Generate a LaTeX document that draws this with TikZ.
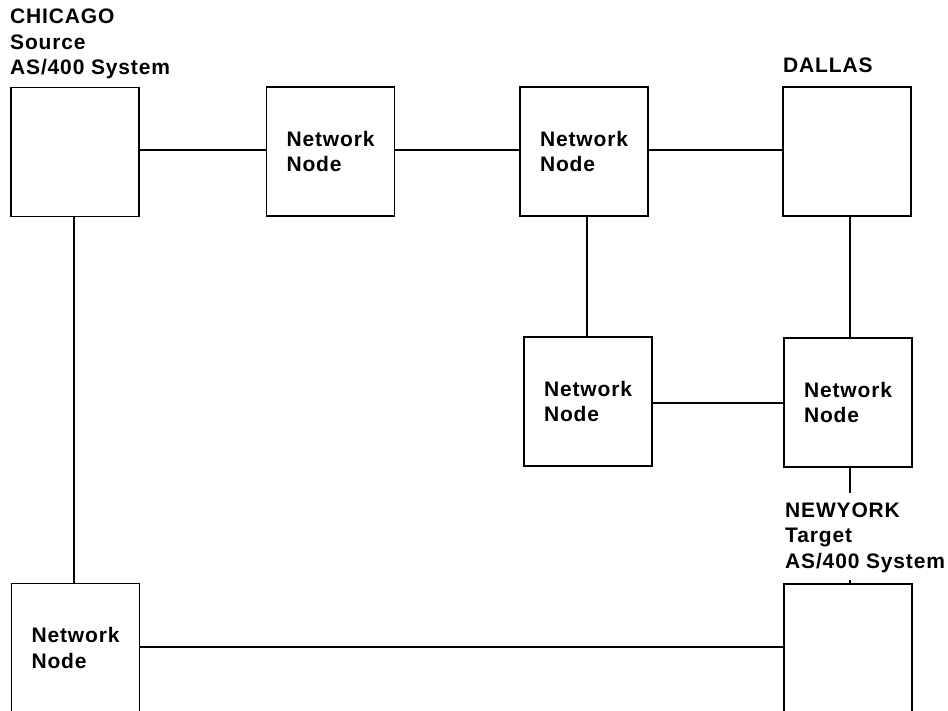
\documentclass[tikz,border=0pt]{standalone}
\usepackage{fontspec}
\setmainfont{Liberation Sans}[LetterSpace=4]
\begin{document}
\begin{tikzpicture}[x=1pt,y=-1pt,
  box/.style={draw, line width=1.4pt, minimum width=128pt, minimum height=129pt, inner sep=0pt, align=left, font=\fontsize{21}{25.5}\selectfont\bfseries},
  lbl/.style={inner sep=0pt, align=left, anchor=base west, font=\fontsize{21}{25.5}\selectfont\bfseries},
  link/.style={line width=1.2pt}]
\useasboundingbox (0,0) rectangle (948,711);
\clip (0,0) rectangle (948,711);
% boxes
\node[box] (chi) at (75,152) {};
\node[box] (nna) at (330.5,151.5) {Network\\Node};
\node[box] (nnb) at (584,151.5) {Network\\Node};
\node[box] (dal) at (847,151.5) {};
\node[box] (nnc) at (588,401.5) {Network\\Node};
\node[box] (nnd) at (848,402.5) {Network\\Node};
\node[box] (nne) at (75.5,648) {Network\\Node};
\node[box] (ny) at (848,648.5) {};
% labels (anchor at baseline of the last line)
\node[lbl] (chilbl) at (10,75) {CHICAGO\\Source\\AS/400 System};
\node[lbl] (dallbl) at (783,73) {DALLAS};
\node[lbl] (nylbl) at (785,568) {NEWYORK\\Target\\AS/400 System};
% connectors
\draw[link] (chi.east |- 0,150) -- (nna.west |- 0,150);
\draw[link] (nna.east |- 0,150) -- (nnb.west |- 0,150);
\draw[link] (nnb.east |- 0,150) -- (dal.west |- 0,150);
\draw[link] (nnc.north -| 587,0) -- (nnb.south -| 587,0);
\draw[link] (nnd.north -| 850,0) -- (dal.south -| 850,0);
\draw[link] (nnc.east |- 0,403) -- (nnd.west |- 0,403);
\coordinate (nyt) at (850,493);
\coordinate (nyb) at (850,580);
\draw[link] (nnd.south -| nyt) -- (nyt);
\draw[link] (nyb) -- (ny.north -| nyb);
\draw[link] (chi.south -| 74,0) -- (nne.north -| 74,0);
\draw[link] (nne.east |- 0,647) -- (ny.west |- 0,647);
\end{tikzpicture}
\end{document}
